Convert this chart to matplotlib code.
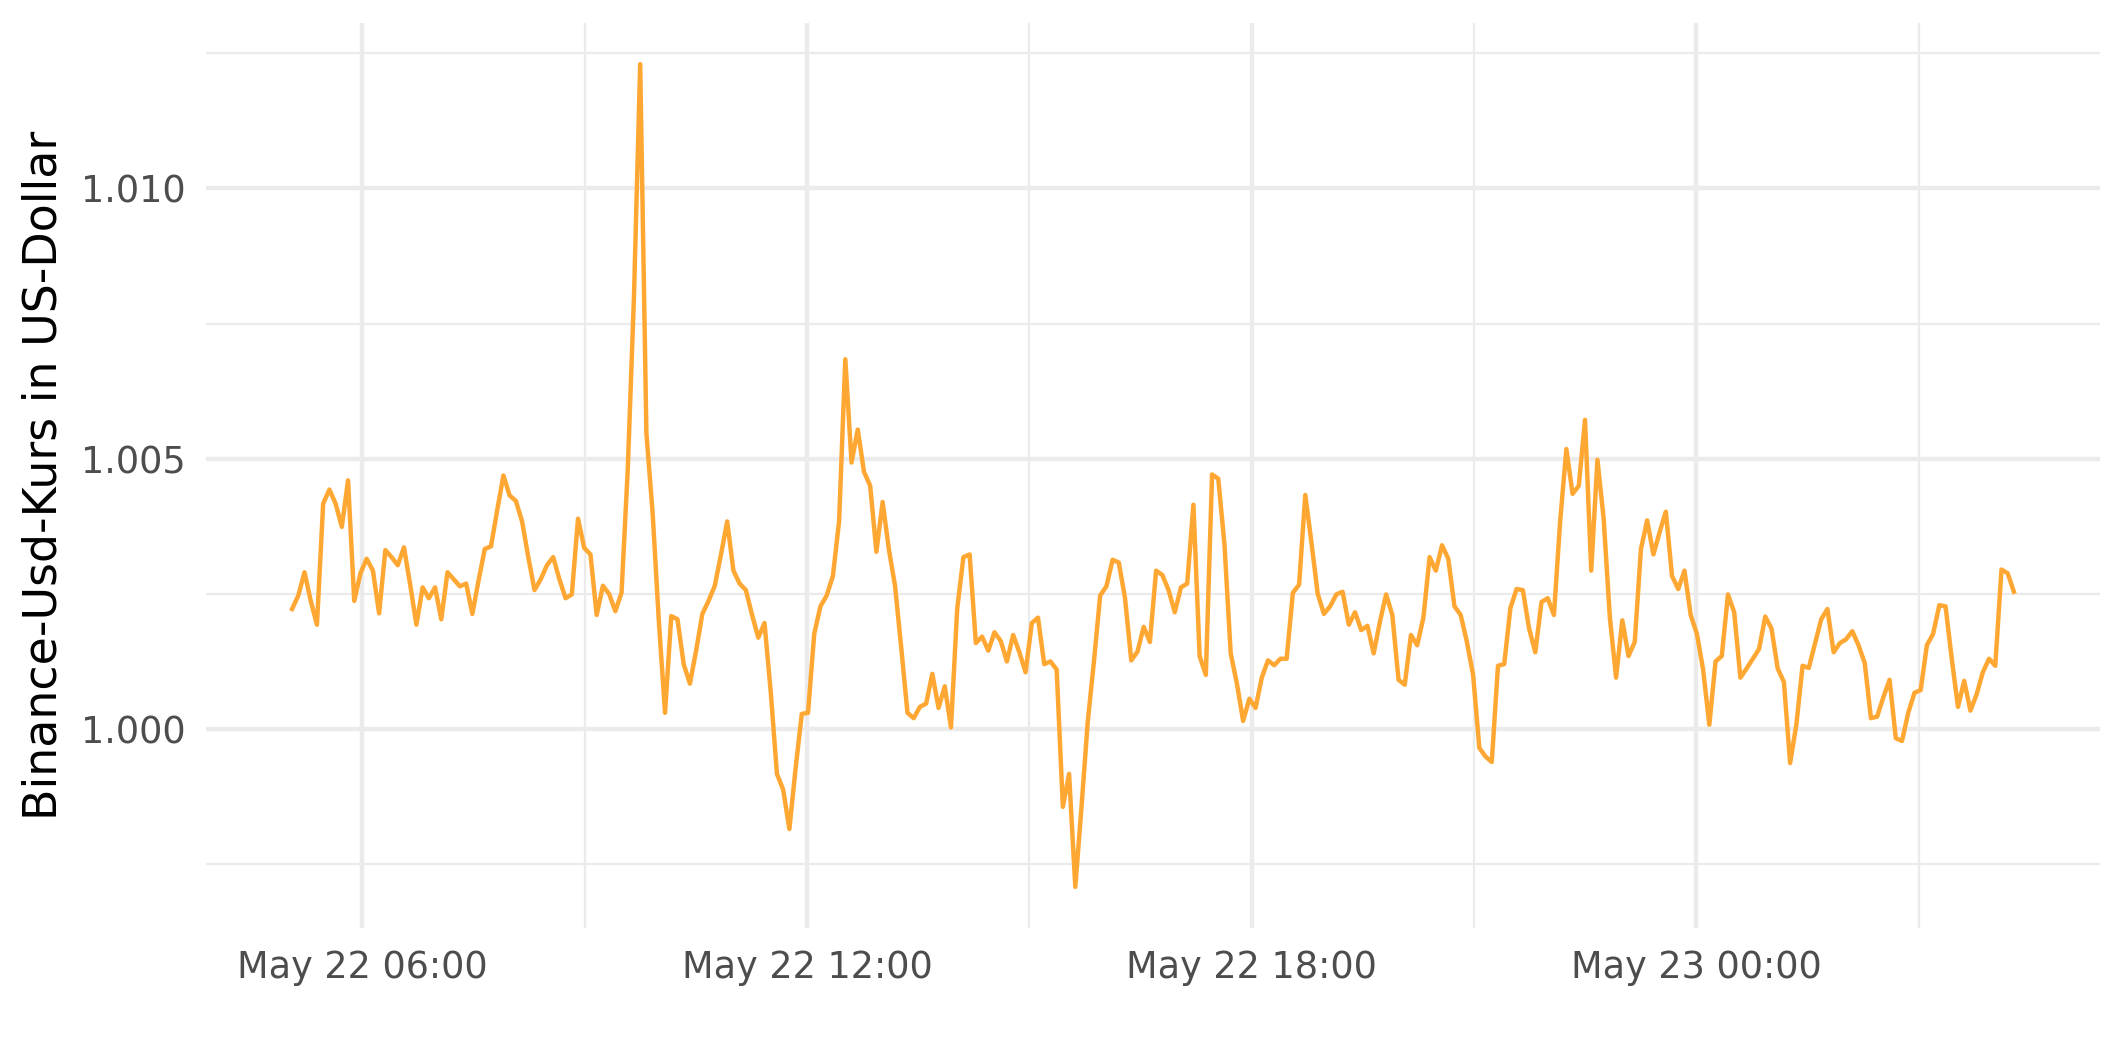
import matplotlib
matplotlib.use("Agg")
import matplotlib.pyplot as plt
import matplotlib.dates as mdates
import numpy as np
import pandas as pd

start_time = "2023-05-22 05:03"
end_time = "2023-05-23 04:17"

busd_usd = [
    1.00222, 1.00247, 1.00290, 1.00237, 1.00193, 1.00417, 1.00443, 1.00417, 1.00374, 1.00460,
    1.00237, 1.00288, 1.00315, 1.00293, 1.00214, 1.00331, 1.00318, 1.00303, 1.00336, 1.00267,
    1.00193, 1.00262, 1.00242, 1.00262, 1.00203, 1.00290, 1.00277, 1.00264, 1.00269, 1.00213,
    1.00275, 1.00333, 1.00338, 1.00405, 1.00469, 1.00432, 1.00422, 1.00384, 1.00318, 1.00257,
    1.00277, 1.00303, 1.00318, 1.00277, 1.00242, 1.00249, 1.00389, 1.00335, 1.00323, 1.00211,
    1.00265, 1.00250, 1.00218, 1.00252, 1.00480, 1.00800, 1.01230, 1.00547, 1.00400, 1.00200,
    1.00030, 1.00209, 1.00203, 1.00120, 1.00084, 1.00145, 1.00213, 1.00237, 1.00265, 1.00323,
    1.00384, 1.00293, 1.00269, 1.00257, 1.00211, 1.00169, 1.00196, 1.00069, 0.99917, 0.99888,
    0.99815, 0.99927, 1.00028, 1.00030, 1.00176, 1.00227, 1.00247, 1.00283, 1.00384, 1.00684,
    1.00493, 1.00554, 1.00476, 1.00450, 1.00328, 1.00420, 1.00333, 1.00265, 1.00150, 1.00030,
    1.00020, 1.00041, 1.00047, 1.00102, 1.00039, 1.00079, 1.00003, 1.00222, 1.00318, 1.00323,
    1.00159, 1.00171, 1.00145, 1.00179, 1.00163, 1.00125, 1.00174, 1.00142, 1.00105, 1.00196,
    1.00206, 1.00120, 1.00125, 1.00110, 0.99856, 0.99917, 0.99708, 0.99856, 1.00013, 1.00125,
    1.00247, 1.00264, 1.00313, 1.00308, 1.00242, 1.00127, 1.00143, 1.00189, 1.00161, 1.00293,
    1.00285, 1.00257, 1.00216, 1.00262, 1.00269, 1.00415, 1.00135, 1.00100, 1.00471, 1.00463,
    1.00341, 1.00140, 1.00084, 1.00015, 1.00056, 1.00039, 1.00095, 1.00127, 1.00118, 1.00130,
    1.00130, 1.00252, 1.00267, 1.00433, 1.00344, 1.00250, 1.00213, 1.00227, 1.00249, 1.00254,
    1.00193, 1.00216, 1.00183, 1.00191, 1.00140, 1.00198, 1.00249, 1.00211, 1.00091, 1.00082,
    1.00174, 1.00155, 1.00206, 1.00318, 1.00293, 1.00340, 1.00315, 1.00227, 1.00211, 1.00161,
    1.00100, 0.99965, 0.99949, 0.99939, 1.00117, 1.00120, 1.00224, 1.00259, 1.00257, 1.00186,
    1.00142, 1.00235, 1.00242, 1.00211, 1.00384, 1.00518, 1.00435, 1.00450, 1.00572, 1.00293,
    1.00498, 1.00389, 1.00206, 1.00095, 1.00201, 1.00135, 1.00161, 1.00333, 1.00386, 1.00323,
    1.00364, 1.00402, 1.00283, 1.00259, 1.00293, 1.00211, 1.00176, 1.00110, 1.00008, 1.00125,
    1.00135, 1.00249, 1.00216, 1.00095, 1.00112, 1.00130, 1.00148, 1.00208, 1.00186, 1.00112,
    1.00087, 0.99937, 1.00008, 1.00117, 1.00113, 1.00158, 1.00203, 1.00222, 1.00142, 1.00159,
    1.00166, 1.00181, 1.00155, 1.00122, 1.00020, 1.00023, 1.00059, 1.00091, 0.99983, 0.99978,
    1.00030, 1.00067, 1.00072, 1.00155, 1.00176, 1.00229, 1.00227, 1.00130, 1.00041, 1.00089,
    1.00034, 1.00064, 1.00105, 1.00130, 1.00117, 1.00295, 1.00288, 1.00254,
]

y_ticks = [1.000, 1.005, 1.010]
y_tick_labels = ["1.000", "1.005", "1.010"]
x_major_ticks = ["2023-05-22 06:00", "2023-05-22 12:00", "2023-05-22 18:00", "2023-05-23 00:00"]
x_minor_ticks = ["2023-05-22 09:00", "2023-05-22 15:00", "2023-05-22 21:00", "2023-05-23 03:00"]
y_label = "Binance-Usd-Kurs in US-Dollar"

times = pd.date_range(start_time, end_time, periods=len(busd_usd))
values = np.array(busd_usd)

DPI = 300
W, H = 2125, 1062
fig = plt.figure(figsize=(W / DPI, H / DPI), dpi=DPI)
left, right, top, bottom = 206, 2100, 23, 928
ax = fig.add_axes([left / W, 1 - bottom / H, (right - left) / W, (bottom - top) / H])

grid_c = "#EBEBEB"
ymin, ymax = values.min(), values.max()
yr = ymax - ymin
ax.set_ylim(ymin - 0.05 * yr, ymax + 0.05 * yr)
ax.set_yticks(y_ticks)
ax.set_yticklabels(y_tick_labels)
ax.set_yticks([0.9975, 1.0025, 1.0075, 1.0125], minor=True)

xnum = mdates.date2num(times)
xr = xnum.max() - xnum.min()
ax.set_xlim(xnum.min() - 0.05 * xr, xnum.max() + 0.05 * xr)
ax.set_xticks(mdates.date2num(pd.to_datetime(x_major_ticks)))
ax.set_xticks(mdates.date2num(pd.to_datetime(x_minor_ticks)), minor=True)
ax.xaxis.set_major_formatter(mdates.DateFormatter("%b %d %H:%M"))

ax.grid(True, which="major", color=grid_c, linewidth=1.07, zorder=0)
ax.grid(True, which="minor", color=grid_c, linewidth=0.53, zorder=0)
ax.set_axisbelow(True)

ax.plot(times, values, color="#FFA733", linewidth=1.07, zorder=3)

for s in ax.spines.values():
    s.set_visible(False)
ax.tick_params(which="both", length=0)
ax.tick_params(axis="both", which="major", labelsize=8.8, labelcolor="#4D4D4D")
ax.tick_params(axis="y", which="major", pad=4.8)
ax.tick_params(axis="x", which="major", pad=5)

fig.text(44 / W, 1 - ((top + bottom) / 2) / H, y_label, rotation=90,
         ha="center", va="center", fontsize=11, color="black")

fig.savefig("out.png", dpi=DPI, facecolor="white")
